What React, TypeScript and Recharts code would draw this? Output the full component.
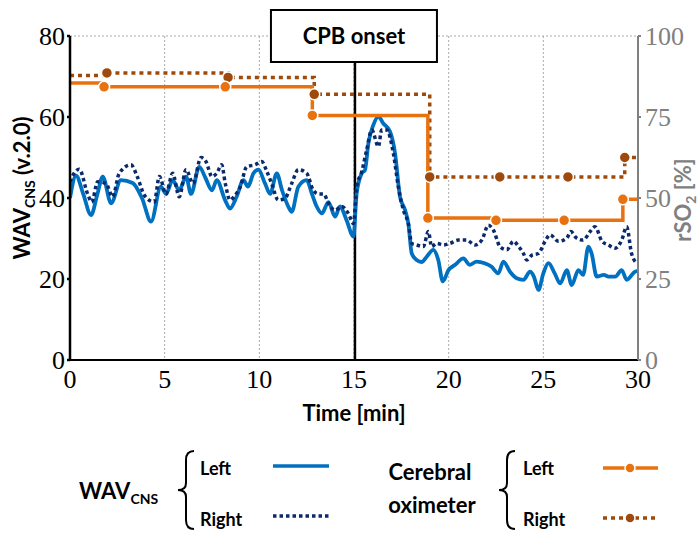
import { ComposedChart, Line, XAxis, YAxis, CartesianGrid, ReferenceLine } from 'recharts';

// WAV_CNS, left hemisphere (time in min, index value)
const wavLeftT = [0, 0.32, 0.7, 1.11, 1.45, 1.73, 2.17, 2.69, 3.31, 3.8, 4.28, 4.8, 5.07, 5.42, 5.77, 6.13, 6.39, 6.83, 7.15, 7.5, 7.75, 8.19, 8.45, 8.8, 9.16, 9.4, 9.69, 9.95, 10.3, 10.57, 10.92, 11.2, 11.53, 11.71, 12.06, 12.5, 12.78, 13.03, 13.3, 13.65, 14.0, 14.26, 14.6, 14.97, 15.14, 15.41, 15.58, 15.76, 16.02, 16.29, 16.55, 16.9, 17.17, 17.43, 17.7, 17.87, 18.05, 18.31, 18.57, 18.84, 19.19, 19.45, 19.69, 19.99, 20.34, 20.78, 21.1, 21.48, 21.9, 22.27, 22.62, 22.89, 23.24, 23.59, 23.95, 24.3, 24.5, 24.74, 25.0, 25.27, 25.6, 25.89, 26.24, 26.5, 26.85, 27.1, 27.38, 27.55, 27.82, 28.2, 28.44, 28.8, 29.14, 29.4, 29.84, 30];
const wavLeftV = [40, 45.5, 41, 35.8, 41, 45.3, 38.7, 44.4, 43.7, 40, 34.2, 42.8, 41, 44.4, 41.9, 45.3, 41, 47.7, 45, 41.9, 44.4, 39.5, 37.4, 40.3, 44.4, 42.8, 46.1, 47, 43.6, 41, 46.1, 41.9, 37.9, 36.6, 42.8, 44.4, 41, 37.9, 36.2, 39, 35.4, 37.9, 34.6, 30.5, 41.1, 46.1, 46.9, 53.5, 58, 60.1, 58.4, 56.4, 51, 40.3, 37, 33.7, 26.3, 24.7, 24.2, 25.5, 27.2, 24.7, 19.4, 22.2, 23.5, 25.1, 23.5, 24.3, 23.9, 23, 21.4, 24.3, 21.8, 20.2, 19.8, 21.8, 20.6, 17.3, 21.4, 23.9, 21.4, 18.9, 22.2, 18.5, 22.2, 21, 28, 26.3, 20.6, 21, 20.6, 20.6, 22.2, 19.8, 21.8, 22];

// WAV_CNS, right hemisphere
const wavRightT = [0, 0.2, 0.49, 0.93, 1.15, 1.46, 1.9, 2.25, 2.6, 3.22, 3.55, 3.93, 4.45, 4.72, 5.07, 5.42, 5.77, 6.13, 6.5, 6.92, 7.18, 7.5, 7.75, 8.01, 8.2, 8.45, 8.72, 9.0, 9.33, 9.77, 10.13, 10.4, 10.65, 11.0, 11.35, 11.71, 12.06, 12.5, 12.85, 13.12, 13.4, 13.65, 14.0, 14.35, 14.7, 14.97, 15.15, 15.41, 15.67, 15.94, 16.29, 16.46, 16.73, 17.08, 17.34, 17.61, 17.87, 18.05, 18.31, 18.66, 18.93, 19.1, 19.37, 19.72, 20.07, 20.51, 20.95, 21.39, 21.75, 22.1, 22.36, 22.71, 23.07, 23.42, 23.7, 23.95, 24.12, 24.4, 24.74, 25.09, 25.36, 25.8, 26.24, 26.45, 26.76, 27.1, 27.47, 27.73, 28.1, 28.44, 28.79, 29.14, 29.4, 29.66, 29.93];
const wavRightV = [44, 46, 47.1, 41, 39, 44, 43.6, 40.3, 46.1, 48.2, 45.3, 40.7, 39, 45.3, 41, 46.1, 40.3, 47, 43.6, 50, 49, 45.3, 46.1, 48.2, 43.6, 39.5, 40.7, 42.8, 47.7, 48.2, 49, 46.5, 43.6, 39.5, 39.9, 43.6, 47, 46.1, 41.9, 41, 41, 38.7, 37, 37.9, 36.2, 33.7, 43, 46.5, 51.9, 56.8, 52.7, 56.8, 56.8, 51, 42.8, 37, 33.7, 28.8, 28.4, 28, 31.7, 28, 28.8, 28.4, 28.8, 29.6, 29.6, 28.4, 29.6, 33.3, 32.1, 28, 27.2, 29.3, 28, 26.3, 24.7, 25.9, 26.3, 29.3, 30.9, 29.3, 30.1, 31.7, 30.1, 29.6, 31.7, 32.9, 29.3, 28.4, 27.6, 29.6, 32.9, 26.3, 23.9];

// cerebral oximeter rSO2 [%], sampled values (marked) held until next sample
const oxiLeftT = [0, 1.8, 8.2, 12.8, 18.9, 22.5, 26.1, 29.2, 30];
const oxiLeftV = [85.5, 84.3, 84.3, 75.5, 43.8, 43.1, 43.1, 49.6, 49.6];
const oxiLeftMark = [false, true, true, true, true, true, true, true, false];

const oxiRightT = [0, 1.95, 8.35, 12.9, 19.0, 22.7, 26.3, 29.3, 30];
const oxiRightV = [87.8, 88.6, 87.2, 82, 56.5, 56.5, 56.5, 62.5, 62.5];
const oxiRightMark = [false, true, true, true, true, true, true, true, false];

const timeTicks = [0, 5, 10, 15, 20, 25, 30];
const wavTicks = [0, 20, 40, 60, 80];
const rso2Ticks = [0, 25, 50, 75, 100];
const cpbOnset = 15.05;

const wavLeft = wavLeftT.map((t, i) => ({ t, v: wavLeftV[i] }));
const wavRight = wavRightT.map((t, i) => ({ t, v: wavRightV[i] }));
const oxiLeft = oxiLeftT.map((t, i) => ({ t, v: oxiLeftV[i], m: oxiLeftMark[i] }));
const oxiRight = oxiRightT.map((t, i) => ({ t, v: oxiRightV[i], m: oxiRightMark[i] }));

const BLUE = '#0070C0';
const NAVY = '#0B2A6B';
const ORANGE = '#E8720F';
const BROWN = '#9E4A0C';
const GRAY = '#808080';
const SERIF = 'Liberation Serif, Tinos, DejaVu Serif, Noto Serif, Times, serif';
const SANS = 'Lato, Open Sans, sans-serif';

const markerDot = (color: string) => (p: any) => {
  if (!p.payload || !p.payload.m) return <g key={`d-${p.index}`} />;
  return <circle key={`d-${p.index}`} cx={p.cx} cy={p.cy} r={5.5} fill={color} stroke="#fff" strokeWidth={1.5} />;
};

const XTick = (p: any) => (
  <text x={p.x} y={p.y + 20} textAnchor="middle" fontFamily={SERIF} fontSize={26} fill="#000">
    {p.payload.value}
  </text>
);

const LeftTick = (p: any) => (
  <text x={p.x - 1} y={p.y + 9} textAnchor="end" fontFamily={SERIF} fontSize={26} fill="#000">
    {p.payload.value}
  </text>
);

const RightTick = (p: any) => (
  <text x={p.x + 2} y={p.y + 9} textAnchor="start" fontFamily={SERIF} fontSize={26} fill={GRAY}>
    {p.payload.value}
  </text>
);

const CpbLabel = (props: any) => {
  const vb = props.viewBox || {};
  const x = vb.x ?? 0;
  return (
    <g>
      <rect x={x - 84} y={10} width={166} height={52} fill="#fff" stroke="#000" strokeWidth={2} />
      <text x={x - 1} y={44} textAnchor="middle" fontFamily={SANS} fontWeight={700} fontSize={22} fill="#000">
        CPB onset
      </text>
    </g>
  );
};

function Brace({ x, y1, y2 }: { x: number; y1: number; y2: number }) {
  const m = (y1 + y2) / 2;
  return (
    <path
      d={`M${x + 16},${y1} Q${x + 8},${y1} ${x + 8},${y1 + 9} L${x + 8},${m - 7} Q${x + 8},${m} ${x},${m} Q${x + 8},${m} ${x + 8},${m + 7} L${x + 8},${y2 - 9} Q${x + 8},${y2} ${x + 16},${y2}`}
      fill="none"
      stroke="#000"
      strokeWidth={2}
    />
  );
}

function Overlay() {
  const bold = { fontFamily: SANS, fontWeight: 700 } as const;
  return (
    <svg width={700} height={533} style={{ position: 'absolute', left: 0, top: 0, pointerEvents: 'none' }}>
      {/* axis titles */}
      <text transform="translate(30,188) rotate(-90)" textAnchor="middle" fontSize={22} {...bold} fill="#000">
        WAV<tspan fontSize={14} dy={5}>CNS</tspan>
        <tspan dy={-5}> (v.2.0)</tspan>
      </text>
      <text transform="translate(691,200) rotate(-90)" textAnchor="middle" fontSize={22} {...bold} fill={GRAY}>
        rSO<tspan fontSize={14} dy={5}>2</tspan>
        <tspan dy={-5}> [%]</tspan>
      </text>
      <text x={354} y={421} textAnchor="middle" fontSize={22} {...bold} fill="#000">
        Time [min]
      </text>

      {/* legend */}
      <text x={79} y={499} fontSize={22} {...bold} fill="#000">
        WAV<tspan fontSize={14} dy={5}>CNS</tspan>
      </text>
      <Brace x={178} y1={451} y2={529} />
      <text x={200} y={475} fontSize={18} {...bold}>Left</text>
      <text x={200} y={526} fontSize={18} {...bold}>Right</text>
      <line x1={273} y1={466} x2={329} y2={466} stroke={BLUE} strokeWidth={3.5} />
      <line x1={273} y1={516} x2={329} y2={516} stroke={NAVY} strokeWidth={3.5} strokeDasharray="3.5 3" />

      <text x={430} y={480} textAnchor="middle" fontSize={22} {...bold}>Cerebral</text>
      <text x={432} y={513} textAnchor="middle" fontSize={22} {...bold}>oximeter</text>
      <Brace x={499} y1={451} y2={529} />
      <text x={523} y={475} fontSize={18} {...bold}>Left</text>
      <text x={523} y={526} fontSize={18} {...bold}>Right</text>
      <line x1={603} y1={468} x2={658} y2={468} stroke={ORANGE} strokeWidth={3.5} />
      <circle cx={630} cy={468} r={5} fill={ORANGE} stroke="#fff" strokeWidth={1.5} />
      <line x1={603} y1={518} x2={658} y2={518} stroke={BROWN} strokeWidth={3.5} strokeDasharray="4 4" />
      <circle cx={630} cy={518} r={5} fill={BROWN} stroke="#fff" strokeWidth={1.5} />
    </svg>
  );
}

export default function App() {
  return (
    <div style={{ position: 'absolute', left: 0, top: 0, width: 700, height: 533, background: '#fff' }}>
      <ComposedChart width={700} height={533} margin={{ top: 36, right: 0, bottom: 143, left: 0 }}>
        <CartesianGrid stroke="#aaa" strokeDasharray="2 2" strokeWidth={1} />
        <XAxis
          type="number"
          dataKey="t"
          domain={[0, 30]}
          ticks={timeTicks}
          allowDataOverflow
          height={30}
          stroke="#000"
          strokeWidth={2}
          tickLine={false}
          tick={<XTick />}
        />
        <YAxis
          yAxisId="left"
          domain={[0, 80]}
          ticks={wavTicks}
          width={70}
          stroke="#000"
          strokeWidth={2.5}
          tickSize={3}
          tickMargin={1}
          tick={<LeftTick />}
        />
        <YAxis
          yAxisId="right"
          orientation="right"
          domain={[0, 100]}
          ticks={rso2Ticks}
          width={62}
          stroke={GRAY}
          strokeWidth={2}
          tickSize={3}
          tickMargin={2}
          tick={<RightTick />}
        />
        <ReferenceLine yAxisId="left" x={cpbOnset} stroke="#000" strokeWidth={2.5} label={CpbLabel} />
        <Line
          yAxisId="left"
          data={wavLeft}
          dataKey="v"
          type="monotone"
          stroke={BLUE}
          strokeWidth={3.8}
          dot={false}
          isAnimationActive={false}
        />
        <Line
          yAxisId="left"
          data={wavRight}
          dataKey="v"
          type="monotone"
          stroke={NAVY}
          strokeWidth={3.5}
          strokeDasharray="3.5 3"
          dot={false}
          isAnimationActive={false}
        />
        <Line
          yAxisId="right"
          data={oxiRight}
          dataKey="v"
          type="stepAfter"
          stroke={BROWN}
          strokeWidth={3.5}
          strokeDasharray="4 4"
          dot={markerDot(BROWN)}
          isAnimationActive={false}
        />
        <Line
          yAxisId="right"
          data={oxiLeft}
          dataKey="v"
          type="stepAfter"
          stroke={ORANGE}
          strokeWidth={3.5}
          dot={markerDot(ORANGE)}
          isAnimationActive={false}
        />
      </ComposedChart>
      <Overlay />
    </div>
  );
}
